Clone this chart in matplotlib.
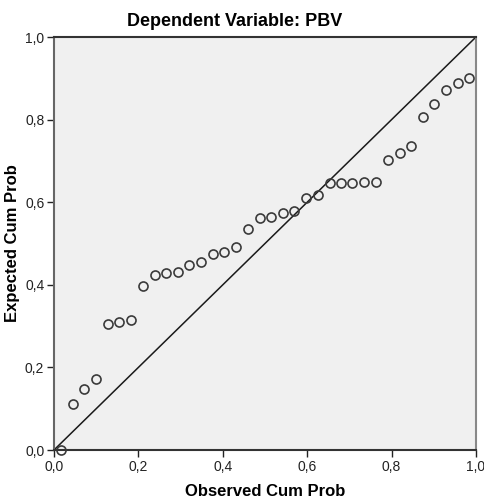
import matplotlib
matplotlib.use('Agg')
import matplotlib.pyplot as plt
from matplotlib.ticker import FuncFormatter

plt.rcParams['font.family'] = ['Liberation Sans', 'DejaVu Sans']

# observed vs expected cumulative probabilities
observed = [0.016, 0.044, 0.072, 0.0995, 0.127, 0.155, 0.182, 0.211, 0.239, 0.265,
            0.293, 0.321, 0.349, 0.376, 0.404, 0.431, 0.459, 0.487, 0.514, 0.543,
            0.569, 0.597, 0.625, 0.653, 0.681, 0.707, 0.735, 0.763, 0.791, 0.819,
            0.846, 0.874, 0.901, 0.929, 0.957, 0.984]
expected = [0.001, 0.111, 0.147, 0.171, 0.305, 0.309, 0.315, 0.398, 0.424, 0.428,
            0.430, 0.449, 0.454, 0.475, 0.479, 0.492, 0.536, 0.562, 0.563, 0.573,
            0.579, 0.610, 0.617, 0.646, 0.646, 0.646, 0.648, 0.649, 0.702, 0.720,
            0.737, 0.807, 0.837, 0.871, 0.889, 0.900]
ticks = [0.0, 0.2, 0.4, 0.6, 0.8, 1.0]

fig = plt.figure(figsize=(4.84, 5.04), dpi=100)
ax = fig.add_axes([54/484, 54/504, 422/484, 413/504])
ax.set_facecolor('#f0f0f0')

ax.plot([0, 1], [0, 1], color='#1a1a1a', lw=1.1, zorder=2)
ax.plot(observed, expected, 'o', ms=6.5, mfc='none', mec='#3a3a3a', mew=1.2,
        zorder=3, clip_on=False)

ax.set_xlim(0, 1)
ax.set_ylim(0, 1)
ax.set_xticks(ticks)
ax.set_yticks(ticks)
fmt = FuncFormatter(lambda v, p: ('%.1f' % v).replace('.', ','))
ax.xaxis.set_major_formatter(fmt)
ax.yaxis.set_major_formatter(fmt)
ax.tick_params(direction='out', length=5, width=1, colors='#222222',
               labelsize=10, pad=2)

ax.spines['top'].set_color('#333333')
ax.spines['bottom'].set_color('#333333')
ax.spines['left'].set_color('#666666')
ax.spines['right'].set_color('#888888')
for s in ax.spines.values():
    s.set_linewidth(1.5)

fig.text(235/484, 1 - 22/504, 'Dependent Variable: PBV', fontsize=13,
         fontweight='bold', ha='center', va='center')
ax.set_xlabel('Observed Cum Prob', fontsize=12, fontweight='bold')
ax.set_ylabel('Expected Cum Prob', fontsize=12, fontweight='bold')
ax.xaxis.set_label_coords(0.5, -(492 - 450) / 413)
ax.yaxis.set_label_coords(-(54 - 13) / 422, 0.5)
ax.xaxis.label.set_va('center')
ax.yaxis.label.set_va('center')

fig.savefig('out.png', dpi=100, facecolor='white')
